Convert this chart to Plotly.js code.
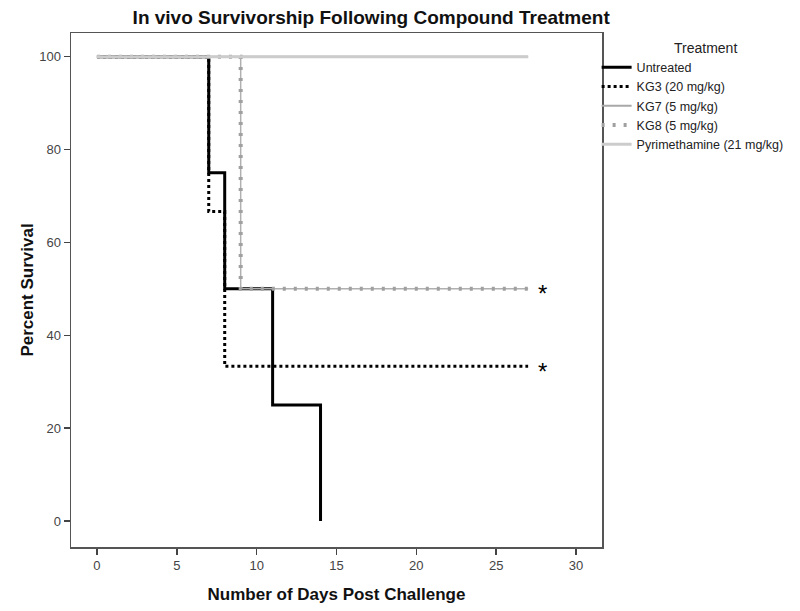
<!DOCTYPE html>
<html>
<head>
<meta charset="utf-8">
<script src="https://cdn.plot.ly/plotly-3.0.1.min.js"></script>
<style>html,body{margin:0;padding:0;background:#fff;}#chart{width:800px;height:611px;}</style>
</head>
<body>
<div id="chart"></div>
<script>
// Data (Kaplan-Meier step curves)
const untreatedDays = [0, 7, 8, 11, 14];
const untreatedSurv = [100, 75, 50, 25, 0];
const kg3Days = [0, 7, 8, 27];
const kg3Surv = [100, 66.67, 33.33, 33.33];
const kg7Days = [0, 27];
const kg7Surv = [100, 100];
const kg8Days = [0, 9, 27];
const kg8Surv = [100, 50, 50];
const pyrDays = [0, 27];
const pyrSurv = [100, 100];
const seriesNames = ["Untreated", "KG3 (20 mg/kg)", "KG7 (5 mg/kg)", "KG8 (5 mg/kg)", "Pyrimethamine (21 mg/kg)"];
const xTicks = [0, 5, 10, 15, 20, 25, 30];
const yTicks = [0, 20, 40, 60, 80, 100];
const starDays = [27.5, 27.5];
const starSurv = [50, 33.33];

const FONT = 'Liberation Sans, Arial, sans-serif';

const traces = [
  {x: untreatedDays, y: untreatedSurv, name: seriesNames[0], mode: 'lines',
   line: {shape: 'hv', color: '#000000', width: 3}},
  {x: kg3Days, y: kg3Surv, name: seriesNames[1], mode: 'lines',
   line: {shape: 'hv', color: '#000000', width: 3, dash: '3px,3px'}},
  {x: kg7Days, y: kg7Surv, name: seriesNames[2], mode: 'lines',
   line: {shape: 'hv', color: '#a8a8a8', width: 2}},
  {x: kg8Days, y: kg8Surv, name: seriesNames[3], mode: 'lines', showlegend: false,
   line: {shape: 'hv', color: '#b0b0b0', width: 1.5}},
  {x: kg8Days, y: kg8Surv, name: seriesNames[3], mode: 'lines',
   line: {shape: 'hv', color: '#a0a0a0', width: 4, dash: '3px,8px'}},
  {x: pyrDays, y: pyrSurv, name: seriesNames[4], mode: 'lines',
   line: {shape: 'hv', color: '#cccccc', width: 3}}
];

const annotations = starDays.map((d, i) => ({
  x: d, y: starSurv[i], xref: 'x', yref: 'y', text: '*', showarrow: false,
  xanchor: 'left', yanchor: 'middle', yshift: -5,
  font: {family: FONT, size: 24, color: '#000'}
}));
annotations.push({
  x: 1.195, y: 1.0, xref: 'paper', yref: 'paper', text: 'Treatment', showarrow: false,
  xanchor: 'center', yanchor: 'top', yshift: -5,
  font: {family: FONT, size: 14, color: '#222'}
});

const layout = {
  width: 800, height: 611,
  margin: {l: 71, r: 197, t: 33, b: 64},
  paper_bgcolor: '#fff', plot_bgcolor: '#fff',
  title: {text: '<b>In vivo Survivorship Following Compound Treatment</b>',
          x: 0.464, xanchor: 'center', y: 0.972, yanchor: 'middle',
          font: {family: FONT, size: 19, color: '#111'}},
  xaxis: {range: [-1.625, 31.625], tickvals: xTicks, ticks: 'outside', ticklen: 6,
          tickcolor: '#444', tickwidth: 1.5, showline: true, mirror: true,
          linecolor: '#555', linewidth: 1.5, showgrid: false, zeroline: false,
          tickfont: {family: FONT, size: 13, color: '#444'},
          title: {text: '<b>Number of Days Post Challenge</b>', standoff: 16,
                  font: {family: FONT, size: 17, color: '#111'}}},
  yaxis: {range: [-5.6, 105.1], tickvals: yTicks, ticks: 'outside', ticklen: 6,
          tickcolor: '#444', tickwidth: 1.5, showline: true, mirror: true,
          linecolor: '#555', linewidth: 1.5, showgrid: false, zeroline: false,
          tickfont: {family: FONT, size: 13, color: '#444'},
          title: {text: '<b>Percent Survival</b>', standoff: 1,
                  font: {family: FONT, size: 17, color: '#111'}}},
  legend: {x: 0.988, xanchor: 'left', y: 0.962, yanchor: 'top', itemwidth: 30,
           tracegroupgap: 0, bgcolor: 'rgba(0,0,0,0)',
           font: {family: FONT, size: 12.5, color: '#222'}},
  annotations: annotations,
  showlegend: true
};

Plotly.newPlot('chart', traces, layout, {displayModeBar: false, staticPlot: true});
</script>
</body>
</html>
